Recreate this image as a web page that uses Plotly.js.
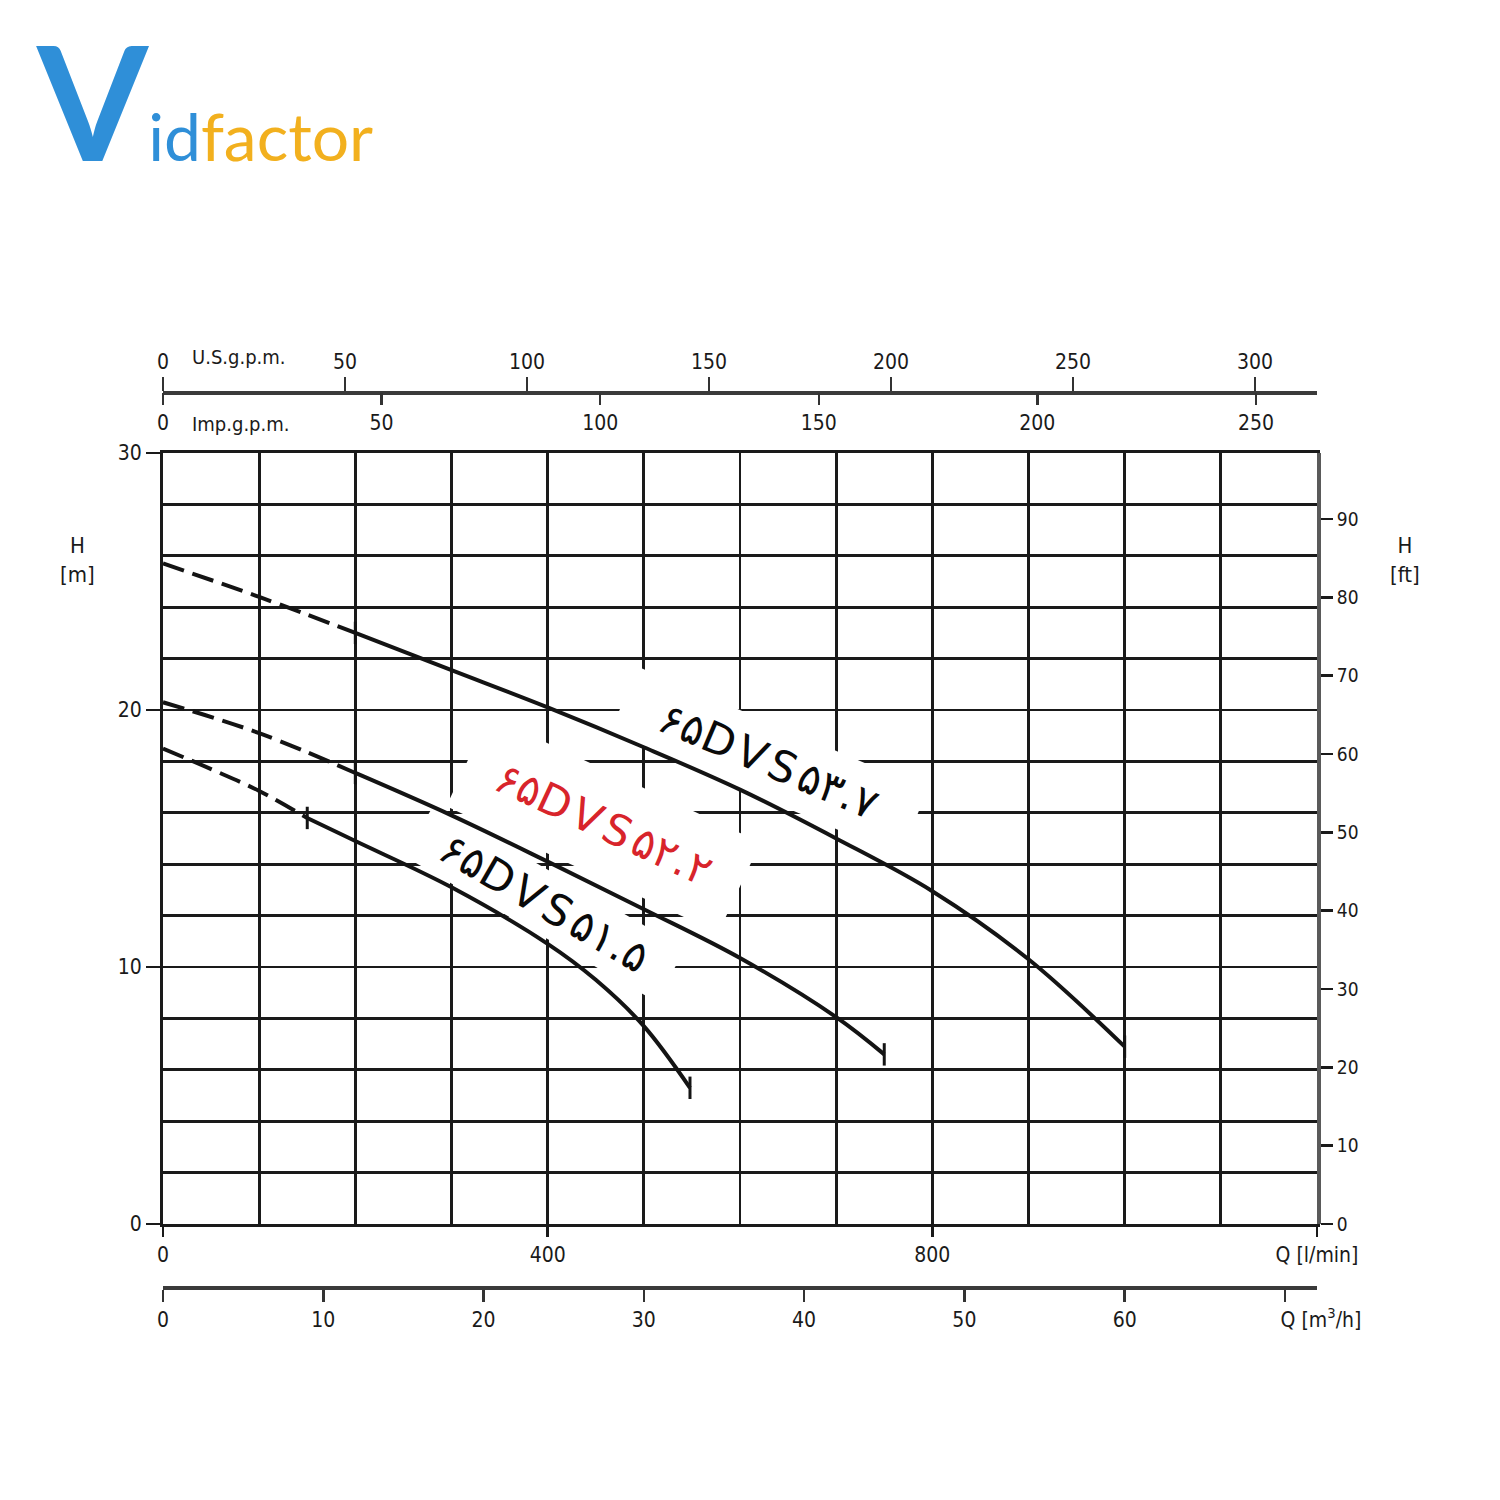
<!DOCTYPE html>
<html>
<head>
<meta charset="utf-8">
<script src="https://cdn.plot.ly/plotly-3.0.1.min.js"></script>
<style>html,body{margin:0;padding:0;background:#fff;}#chart{width:1500px;height:1500px;}</style>
</head>
<body>
<div id="chart"></div>
<script>
// ---- data (Q in l/min, H in m) ----
const q_37 = [0, 100, 200, 300, 400, 500, 600, 700, 800, 900, 1000];
const h_37 = [25.7, 24.4, 23.0, 21.55, 20.1, 18.55, 16.9, 15.0, 12.95, 10.3, 6.9];
const dashEnd_37 = 200;

const q_22 = [0, 100, 200, 300, 400, 500, 600, 700, 750];
const h_22 = [20.3, 19.1, 17.55, 15.9, 14.1, 12.25, 10.35, 8.05, 6.6];
const dashEnd_22 = 200;

const q_15 = [0, 50, 100, 150, 200, 300, 400, 450, 500, 548];
const h_15 = [18.5, 17.7, 16.85, 15.8, 14.9, 13.1, 10.9, 9.5, 7.7, 5.3];
const dashEnd_15 = 150;

const labels = ['۶۵DVS۵۳.۷', '۶۵DVS۵۲.۲', '۶۵DVS۵۱.۵'];

const qTicks = [0, 400, 800, 1200];
const qTickText = ['0', '400', '800', 'Q [l/min]'];
const hTicks = [0, 10, 20, 30];
const ftTicks = [0, 10, 20, 30, 40, 50, 60, 70, 80, 90];
const m3hTicks = [0, 10, 20, 30, 40, 50, 60, 70];
const m3hTickText = ['0', '10', '20', '30', '40', '50', '60', '\u2007\u2007\u2007\u2007\u2007\u2007Q [m<sup>3</sup>/h]'];
const usTicks = [0, 50, 100, 150, 200, 250, 300];
const impTicks = [0, 50, 100, 150, 200, 250];

const Q_MAX = 1200, H_MAX = 30;
const LPM_PER_USGPM = 3.785411784, LPM_PER_IMPGPM = 4.54609, M_PER_FT = 0.3048;

// plot geometry (for label backgrounds)
const W = 1500, HGT = 1500, ML = 163, MR = 183, MT = 330, MB = 170;
const YDOM = [0.106, 0.877];
const pxPerQ = (W - ML - MR) / Q_MAX;
const pxPerH = (HGT - MT - MB) * (YDOM[1] - YDOM[0]) / H_MAX;

const INK = '#141414';
const traces = [];
function addCurve(q, h, dashEnd) {
  const dq = [], dh = [], sq = [], sh = [];
  q.forEach((v, i) => {
    if (v <= dashEnd) { dq.push(v); dh.push(h[i]); }
    if (v >= dashEnd) { sq.push(v); sh.push(h[i]); }
  });
  traces.push({x: dq, y: dh, mode: 'lines', line: {color: INK, width: 4, dash: '22px,9px', shape: 'spline'}, hoverinfo: 'skip'});
  traces.push({x: sq, y: sh, mode: 'lines', line: {color: INK, width: 4, shape: 'spline'}, hoverinfo: 'skip'});
  traces.push({x: [dashEnd, q[q.length - 1]], y: [h[q.indexOf(dashEnd)], h[h.length - 1]], mode: 'markers',
    marker: {symbol: 'line-ns', size: 16, line: {color: INK, width: 3}}, hoverinfo: 'skip'});
}
addCurve(q_37, h_37, dashEnd_37);
addCurve(q_22, h_22, dashEnd_22);
addCurve(q_15, h_15, dashEnd_15);

// invisible traces to activate the secondary axes
const ghost = {mode: 'markers', marker: {opacity: 0}, hoverinfo: 'skip'};
traces.push(Object.assign({x: [0, Q_MAX / LPM_PER_USGPM], y: [0, 0], xaxis: 'x3', yaxis: 'y'}, ghost));
traces.push(Object.assign({x: [0, Q_MAX / LPM_PER_IMPGPM], y: [0, 0], xaxis: 'x4', yaxis: 'y'}, ghost));
traces.push(Object.assign({x: [0, Q_MAX * 0.06], y: [0, 0], xaxis: 'x2', yaxis: 'y'}, ghost));
traces.push(Object.assign({x: [0, 0], y: [0, H_MAX / M_PER_FT], xaxis: 'x', yaxis: 'y2'}, ghost));

// white rotated label backgrounds (between grid and curves)
function boxPath(cq, ch, wpx, hpx, ang) {
  const a = ang * Math.PI / 180, c = Math.cos(a), s = Math.sin(a);
  const pts = [[-wpx / 2, -hpx / 2], [wpx / 2, -hpx / 2], [wpx / 2, hpx / 2], [-wpx / 2, hpx / 2]].map(([x, y]) => {
    const dx = x * c - y * s, dy = x * s + y * c;
    return [cq + dx / pxPerQ, ch - dy / pxPerH];
  });
  return 'M' + pts.map(p => p[0].toFixed(2) + ',' + p[1].toFixed(3)).join(' L') + ' Z';
}
const labelPos = [
  {q: 630, h: 18.0, ang: 23, w: 315, hh: 72, size: 43, color: '#0a0a0a'},
  {q: 458, h: 15.55, ang: 25, w: 300, hh: 100, size: 43, color: '#d8242b'},
  {q: 397, h: 12.5, ang: 30, w: 290, hh: 60, size: 43, color: '#0a0a0a'}
];
const shapes = labelPos.map(p => ({type: 'path', xref: 'x', yref: 'y', layer: 'between',
  path: boxPath(p.q, p.h, p.w, p.hh, p.ang), fillcolor: '#ffffff', line: {width: 0}}));

const FONT = 'DejaVu Sans Condensed, Liberation Sans Narrow, sans-serif';
const GRID = '#1a1a1a';
const tickFont = {family: FONT, size: 21, color: '#1a1a1a'};

const annotations = [
  {xref: 'paper', yref: 'paper', x: 0.0234, y: 0.973, xanchor: 'left', yanchor: 'middle', showarrow: false,
   text: 'U.S.g.p.m.', font: {family: FONT, size: 20, color: '#1a1a1a'}},
  {xref: 'paper', yref: 'paper', x: 0.0234, y: 0.906, xanchor: 'left', yanchor: 'middle', showarrow: false,
   text: 'Imp.g.p.m.', font: {family: FONT, size: 20, color: '#1a1a1a'}},
  {xref: 'paper', yref: 'paper', x: -0.0745, y: 0.77, xanchor: 'center', yanchor: 'middle', showarrow: false,
   text: 'H<br>[m]', font: {family: FONT, size: 22, color: '#1a1a1a'}},
  {xref: 'paper', yref: 'paper', x: 1.076, y: 0.77, xanchor: 'center', yanchor: 'middle', showarrow: false,
   text: 'H<br>[ft]', font: {family: FONT, size: 22, color: '#1a1a1a'}},
  // logo
  {xref: 'paper', yref: 'paper', x: -0.112, y: 1.133, xanchor: 'left', yanchor: 'bottom', showarrow: false,
   text: '<span style="color:#2f8fd8;font-size:160px;font-weight:bold">V</span><span style="color:#2f8fd8">id</span><span style="color:#f2b01e">factor</span>',
   font: {family: 'Lato, Open Sans, sans-serif', size: 66, color: '#2f8fd8'}}
];
labelPos.forEach((p, i) => annotations.push({xref: 'x', yref: 'y', x: p.q, y: p.h, textangle: p.ang, showarrow: false,
  text: '<span style="letter-spacing:5px">' + labels[i] + '</span>',
  font: {family: 'DejaVu Sans, Noto Sans, sans-serif', size: p.size, color: p.color}}));

const layout = {
  width: W, height: HGT,
  margin: {l: ML, r: MR, t: MT, b: MB},
  paper_bgcolor: '#ffffff', plot_bgcolor: '#ffffff',
  showlegend: false,
  font: {family: FONT, size: 21, color: '#1a1a1a'},
  xaxis: {
    range: [0, Q_MAX], anchor: 'y', tickvals: qTicks, ticktext: qTickText, tickangle: 0,
    ticks: 'outside', ticklen: 10, tickwidth: 2.5, tickcolor: GRID, tickfont: tickFont,
    showgrid: true, gridcolor: GRID, gridwidth: 2.8,
    minor: {dtick: 100, showgrid: true, gridcolor: GRID, gridwidth: 2.8, ticks: ''},
    showline: true, linecolor: GRID, linewidth: 3, mirror: true, zeroline: false, fixedrange: true
  },
  yaxis: {
    range: [0, H_MAX], domain: YDOM, anchor: 'x', tickvals: hTicks,
    ticks: 'outside', ticklen: 14, tickwidth: 2.5, tickcolor: GRID, tickfont: tickFont,
    showgrid: true, gridcolor: GRID, gridwidth: 2.8,
    minor: {dtick: 2, showgrid: true, gridcolor: GRID, gridwidth: 2.8, ticks: ''},
    showline: true, linecolor: GRID, linewidth: 3, mirror: true, zeroline: false, fixedrange: true
  },
  yaxis2: {
    overlaying: 'y', side: 'right', anchor: 'x', range: [0, H_MAX / M_PER_FT], tickvals: ftTicks,
    ticks: 'outside', ticklen: 12, tickwidth: 2.5, tickcolor: GRID, tickfont: {family: FONT, size: 19, color: '#1a1a1a'},
    showgrid: false, showline: true, linecolor: '#5a5a5a', linewidth: 4, zeroline: false, fixedrange: true
  },
  xaxis2: {
    overlaying: 'x', anchor: 'free', position: 0.043, side: 'bottom', range: [0, Q_MAX * 0.06],
    tickvals: m3hTicks, ticktext: m3hTickText, tickangle: 0,
    ticks: 'outside', ticklen: 12, tickwidth: 2.5, tickcolor: '#333', tickfont: tickFont,
    showgrid: false, showline: true, linecolor: '#3a3a3a', linewidth: 3.5, zeroline: false, fixedrange: true
  },
  xaxis3: {
    overlaying: 'x', anchor: 'free', position: 0.938, side: 'top', range: [0, Q_MAX / LPM_PER_USGPM],
    tickvals: usTicks, tickangle: 0,
    ticks: 'outside', ticklen: 14, tickwidth: 2.5, tickcolor: '#333', tickfont: tickFont,
    showgrid: false, showline: true, linecolor: '#3a3a3a', linewidth: 3.5, zeroline: false, fixedrange: true
  },
  xaxis4: {
    overlaying: 'x', anchor: 'free', position: 0.938, side: 'bottom', range: [0, Q_MAX / LPM_PER_IMPGPM],
    tickvals: impTicks, tickangle: 0,
    ticks: 'outside', ticklen: 12, tickwidth: 2.5, tickcolor: '#333', tickfont: tickFont,
    showgrid: false, showline: false, zeroline: false, fixedrange: true
  },
  shapes: shapes,
  annotations: annotations
};

Plotly.newPlot('chart', traces, layout, {staticPlot: true, displayModeBar: false});
</script>
</body>
</html>
